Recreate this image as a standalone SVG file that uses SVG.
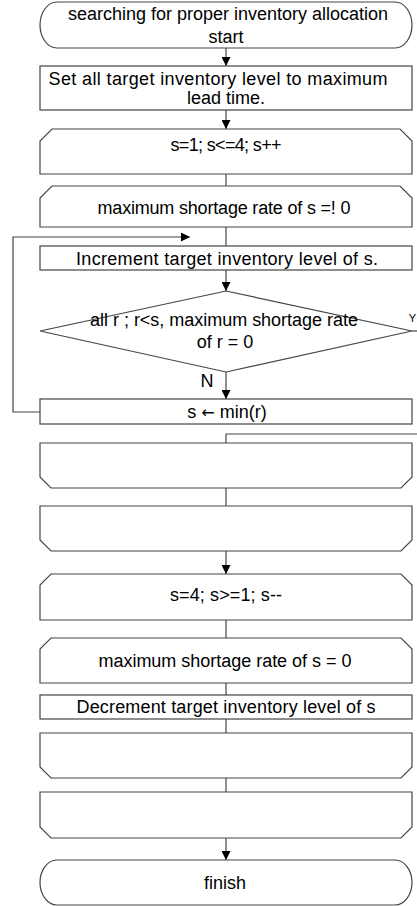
<svg xmlns="http://www.w3.org/2000/svg" width="417" height="906" viewBox="0 0 417 906">
<style>
.n{fill:#fff;stroke:#444;stroke-width:1.2}
.t{font-family:"Liberation Sans",Arial,sans-serif;font-size:18px;fill:#000;text-anchor:middle}
.c{fill:none;stroke:#444;stroke-width:1.2}
</style>
<defs>
<marker id="ah" markerUnits="userSpaceOnUse" markerWidth="9" markerHeight="9" refX="8" refY="4" orient="auto" viewBox="0 0 8 8">
<path d="M0,0 L8,4 L0,8 Z" fill="#000"/>
</marker>
</defs>
<rect width="417" height="906" fill="#fff"/>
<g id="connectors">
<line class="c" x1="226" y1="48" x2="226" y2="66" marker-end="url(#ah)"/>
<line class="c" x1="226" y1="110" x2="226" y2="129" marker-end="url(#ah)"/>
<line class="c" x1="226" y1="174" x2="226" y2="186"/>
<line class="c" x1="226" y1="227" x2="226" y2="246"/>
<polyline class="c" points="40,412 13,412 13,237 190,237" marker-end="url(#ah)"/>
<line class="c" x1="226" y1="270" x2="226" y2="291" marker-end="url(#ah)"/>
<line class="c" x1="226" y1="372" x2="226" y2="399" marker-end="url(#ah)"/>
<line class="c" x1="412" y1="331" x2="417" y2="331"/>
<polyline class="c" points="417,434 226,434 226,443"/>
<line class="c" x1="226" y1="488" x2="226" y2="506"/>
<line class="c" x1="226" y1="551" x2="226" y2="574" marker-end="url(#ah)"/>
<line class="c" x1="226" y1="620" x2="226" y2="638"/>
<line class="c" x1="226" y1="683" x2="226" y2="695"/>
<line class="c" x1="226" y1="719" x2="226" y2="733"/>
<line class="c" x1="226" y1="778" x2="226" y2="792"/>
<line class="c" x1="226" y1="838" x2="226" y2="860" marker-end="url(#ah)"/>
<text class="t" x="207" y="387">N</text>
<text class="t" x="416" y="322" style="font-size:11px;text-anchor:end">Y</text>
</g>
<g id="start">
<rect class="n" x="40" y="2" width="372" height="46" rx="17" ry="23"/>
<text class="t" x="228" y="20" textLength="320">searching for  proper inventory allocation</text>
<text class="t" x="226" y="43">start</text>
</g>
<g id="init">
<rect class="n" x="40" y="66" width="372" height="44"/>
<text class="t" x="218" y="85" textLength="339">Set all target inventory level to maximum</text>
<text class="t" x="226" y="104">lead time.</text>
</g>
<g id="loop1">
<path class="n" d="M40,174 V141 L52,129 H400 L412,141 V174 Z"/>
<text class="t" x="226" y="151" textLength="111">s=1; s&lt;=4; s++</text>
</g>
<g id="loop2">
<path class="n" d="M40,227 V198 L52,186 H400 L412,198 V227 Z"/>
<text class="t" x="224" y="214" textLength="253">maximum shortage rate of s =! 0</text>
</g>
<g id="increment">
<rect class="n" x="40" y="246" width="372" height="24"/>
<text class="t" x="227" y="265" textLength="302">Increment target inventory level of  s.</text>
</g>
<g id="decision">
<path class="n" d="M226,291 L412,331 L226,372 L40,331 Z"/>
<text class="t" x="224" y="326" textLength="268">all r ; r&lt;s, maximum shortage rate</text>
<text class="t" x="225" y="348">of r = 0</text>
</g>
<g id="setmin">
<rect class="n" x="40" y="399" width="372" height="25"/>
<text class="t" x="227" y="418">s <tspan style="font-family:'DejaVu Sans',sans-serif;font-size:16px">←</tspan> min(r)</text>
</g>
<g id="loop2end">
<path class="n" d="M40,443 V477 L51,488 H401 L412,477 V443 Z"/>
</g>
<g id="loop1end">
<path class="n" d="M40,506 V540 L51,551 H401 L412,540 V506 Z"/>
</g>
<g id="loop3">
<path class="n" d="M40,620 V585 L51,574 H401 L412,585 V620 Z"/>
<text class="t" x="226" y="601" textLength="112">s=4; s&gt;=1; s--</text>
</g>
<g id="loop4">
<path class="n" d="M40,683 V649 L51,638 H401 L412,649 V683 Z"/>
<text class="t" x="225" y="667" textLength="253">maximum shortage rate of s = 0</text>
</g>
<g id="decrement">
<rect class="n" x="40" y="695" width="372" height="24"/>
<text class="t" x="226" y="713" textLength="299">Decrement target inventory level of s</text>
</g>
<g id="loop4end">
<path class="n" d="M40,733 V767 L51,778 H401 L412,767 V733 Z"/>
</g>
<g id="loop3end">
<path class="n" d="M40,792 V827 L51,838 H401 L412,827 V792 Z"/>
</g>
<g id="finish">
<rect class="n" x="40" y="860" width="372" height="45" rx="17" ry="22.5"/>
<text class="t" x="225" y="889">finish</text>
</g>
</svg>
